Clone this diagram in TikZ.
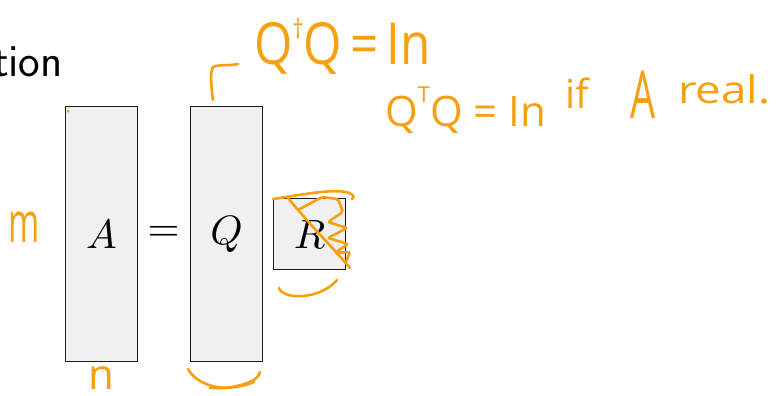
\documentclass[tikz,border=0pt]{standalone}
\usepackage{fontspec}
\newfontfamily\hwfont{Open Sans}
\definecolor{penc}{RGB}{246,160,16}
\definecolor{boxfill}{RGB}{240,240,240}
\newcommand{\bigsym}[1]{\scalebox{4.1}{$#1$}}
\begin{document}
\begin{tikzpicture}[x=1pt,y=-1pt,
  mat/.style={draw=black!90, fill=boxfill, line width=1.1pt, inner sep=0, anchor=north west},
  sym/.style={inner sep=0},
  hw/.style={text=penc, inner sep=0},
  penline/.style={draw=penc, line width=2.6pt, line cap=round, line join=round}]
\useasboundingbox (0,0) rectangle (777,396);

% title fragment
\node[font=\sffamily\fontsize{46}{50}\selectfont, anchor=base east, inner sep=0] (title) at (63,77) {tion};

% matrices
\node[mat, minimum width=72, minimum height=255] (boxA) at (65,106) {};
\node[sym] (symA) at (boxA.center) {\bigsym{A}};
\node[sym] (eq) at (163.5,234) {\bigsym{=}};
\node[mat, minimum width=72, minimum height=255] (boxQ) at (190,106) {};
\node[sym] (symQ) at (boxQ.center) {\bigsym{Q}};
\node[mat, minimum width=72, minimum height=71] (boxR) at (273,198) {};
\node[sym] (symR) at (boxR.center) {\bigsym{R}};

% handwritten annotations
\node[hw, font=\hwfont\fontsize{56}{56}\selectfont, anchor=base west] (hm) at (8,242) {\scalebox{0.6}[1]{m}};
\node[hw, font=\hwfont\fontsize{42}{42}\selectfont, anchor=base, text depth=0pt] (hn) at (101,389) {n};
\node[hw, font=\hwfont\fontsize{58}{58}\selectfont, anchor=base west] (eqone) at (254,65)
  {\scalebox{0.85}[1]{Q\raisebox{0.45em}{\fontsize{26}{26}\selectfont †}Q\,=\,In}};
\node[hw, font=\hwfont\fontsize{42}{42}\selectfont, anchor=base west] (eqtwo) at (385,126)
  {Q\raisebox{0.55em}{\fontsize{22}{22}\selectfont T}Q = In};
\node[hw, font=\hwfont\fontsize{40}{40}\selectfont, anchor=base west] (wif) at (565,108) {if};
\node[hw, font=\hwfont\fontsize{66}{66}\selectfont, anchor=base west] (wA) at (630,118) {\scalebox{0.6}[1]{A}};
\node[hw, font=\hwfont\fontsize{38}{38}\selectfont, anchor=base west] (wreal) at (678,103) {\scalebox{1.2}[1]{real.}};

% strokes
\fill[penc] (68,111) circle (1.6);
\draw[penline] (213,100) .. controls (211,85) and (210,72) .. (213,67) .. controls (220,64) and (230,66) .. (238,64);
\draw[penline] (188,369) .. controls (195,382) and (215,390) .. (232,387) .. controls (248,384) and (258,380) .. (260,372);
\draw[penline] (210,388) .. controls (230,389) and (245,386) .. (254,382);
\draw[penline] (279,288) .. controls (283,300) and (320,300) .. (337,280);
\draw[penline] (273,199) .. controls (300,195) and (330,189) .. (345,192) .. controls (352,193) and (356,197) .. (352,199);
\draw[penline] (288,198) .. controls (310,225) and (335,250) .. (350,268);
\draw[penline, rounded corners=2pt] (298,210) -- (322,197) -- (338,199) -- (343,212) -- (328,222) -- (347,228) -- (328,238) -- (348,244) -- (335,253) -- (350,252) -- (346,262);
\end{tikzpicture}
\end{document}
